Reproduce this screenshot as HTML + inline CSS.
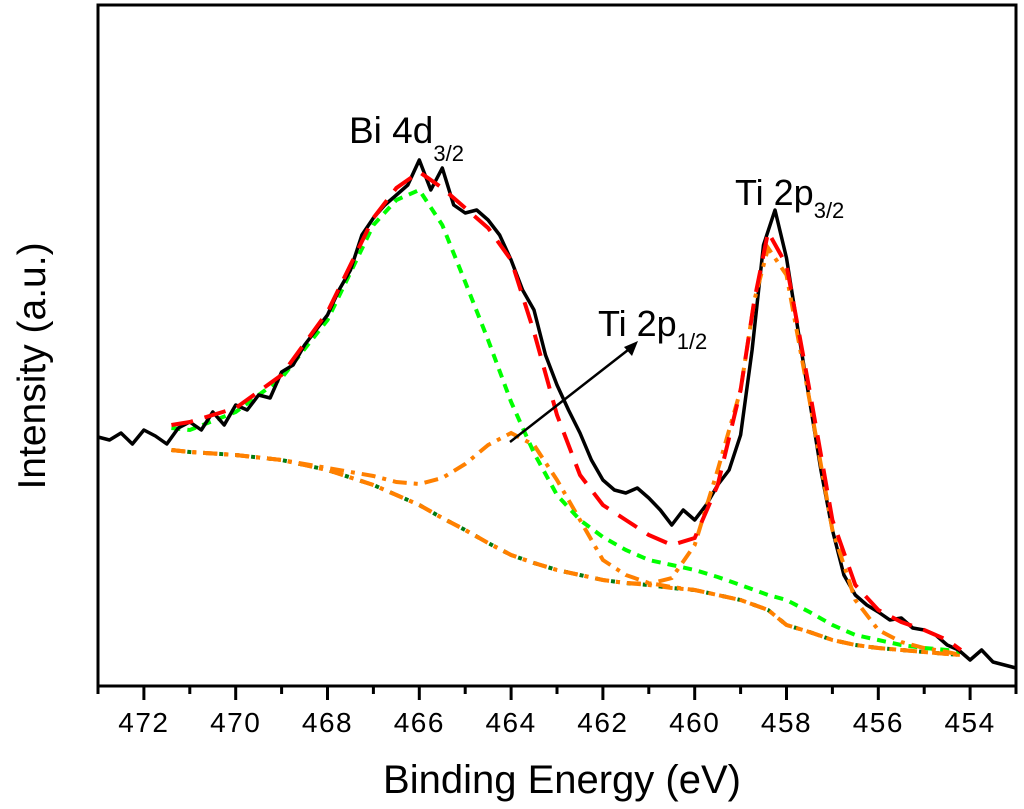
<!DOCTYPE html>
<html><head><meta charset="utf-8"><style>
html,body{margin:0;padding:0;background:#fff;}
svg{display:block;font-family:"Liberation Sans",Arial,sans-serif;}
</style></head><body>
<svg id="chart" width="1024" height="809" viewBox="0 0 1024 809">
<g id="plot"></g>
<g id="axes"></g>
<text x="349" y="143" font-size="37">Bi 4d<tspan font-size="22" dy="18">3/2</tspan></text>
<text x="735" y="205" font-size="36">Ti 2p<tspan font-size="22" dy="13">3/2</tspan></text>
<text x="598" y="336" font-size="36">Ti 2p<tspan font-size="22" dy="13">1/2</tspan></text>
<line x1="510" y1="442" x2="628" y2="350" stroke="#000" stroke-width="2.5"/>
<polygon points="638,341 624,347 632,356" fill="#000"/>
<text x="0" y="0" font-size="39" text-anchor="middle" transform="translate(45,366) rotate(-90)">Intensity (a.u.)</text>
<text x="562" y="793" font-size="40" text-anchor="middle">Binding Energy (eV)</text>
</svg>
<script>
const rawE0 = 473, rawStep = -0.25;
const rawValues = [263,260,267,256,270,264,256,272,
278,270,288,275,295,290,305,302,328,335,355,370,385,410,430,465,482,495,505,515,540,510,532,495,487,490,480,465,440,410,390,345,315,290,267,240,220,210,207,
212,202,190,175,190,180,195,215,230,265,350,455,490,442,370,300,230,170,125,105,95,88,80,82,72,70,65,55,50,40,50,38,35,32];
const fitE = [471.4,471,470,469,468,467,466.5,466,465.5,465,464.5,464,463.5,463,462.5,462,461.5,461,460.5,460,459.5,459,458.7,458.4,458,457.5,457,456.5,456,455.5,455,454.5,454.2];
const envelope = [275,278,292,325,388,482,512,528,512,492,472,440,368,285,225,195,180,165,155,162,215,310,400,468,435,310,180,115,90,78,70,60,50];
const background = [250,248,245,240,230,215,205,195,182,170,157,145,137,130,125,120,117,115,112,110,105,100,95,90,75,68,60,55,52,50,48,46,45];
const bi4d = [272,270,288,322,380,475,500,510,475,418,360,298,247,205,180,163,150,140,135,130,123,115,110,105,100,88,75,65,60,55,52,50,48];
const ti2p12 = [250,248,245,240,232,224,218,216,222,236,255,267,255,220,180,140,125,117,113,110,105,100,95,90,75,68,60,55,52,50,48,46,45];
const ti2p32 = [250,248,245,240,230,215,205,195,182,170,157,145,137,130,125,120,117,116,122,155,230,310,400,452,425,300,170,100,70,58,52,48,45];
const xTicks = [472,470,468,466,464,462,460,458,456,454];
const xMinor = [473,471,469,467,465,463,461,459,457,455,453];

const L=98,R=1016,T=5,B=686, E_MAX=473,E_MIN=453, V_MIN=14, V_MAX=695;
function xs(e){return L+(E_MAX-e)/(E_MAX-E_MIN)*(R-L);}
function ys(v){return B-(v-V_MIN)/(V_MAX-V_MIN)*(B-T);}
const NS="http://www.w3.org/2000/svg";
const plot=document.getElementById('plot'), axes=document.getElementById('axes');
function mk(tag,attrs,parent){const el=document.createElementNS(NS,tag);for(const k in attrs)el.setAttribute(k,attrs[k]);parent.appendChild(el);return el;}
function pathFrom(es,vs){return es.map((e,i)=>(i?'L':'M')+xs(e).toFixed(1)+','+ys(vs[i]).toFixed(1)).join(' ');}

let p;
p=mk('path',{d:pathFrom(fitE,background),fill:'none',stroke:'#ff8000','stroke-width':4,'stroke-dasharray':'14 7 4 7'},plot);


p=mk('path',{d:pathFrom(fitE,background),fill:'none',stroke:'#007a10','stroke-width':4,'stroke-dasharray':'4 12'},plot);


p=mk('path',{d:pathFrom(fitE,ti2p12),fill:'none',stroke:'#ff8000','stroke-width':4,'stroke-dasharray':'14 7 4 7'},plot);


p=mk('path',{d:pathFrom(fitE,bi4d),fill:'none',stroke:'#00ff00','stroke-width':4,'stroke-dasharray':'9 7'},plot);


const rawE=rawValues.map((v,i)=>rawE0+i*rawStep);
p=mk('path',{d:pathFrom(rawE,rawValues),fill:'none',stroke:'#000','stroke-width':3.5,'stroke-linejoin':'round'},plot);


p=mk('path',{d:pathFrom(fitE,ti2p32),fill:'none',stroke:'#ff8000','stroke-width':4,'stroke-dasharray':'14 7 4 7'},plot);


p=mk('path',{d:pathFrom(fitE,envelope),fill:'none',stroke:'#ff0000','stroke-width':4,'stroke-dasharray':'22 12'},plot);



let f=mk('rect',{x:L,y:T,width:R-L,height:B-T,fill:'none',stroke:'#000','stroke-width':3},axes);


xTicks.forEach(e=>{
  let t=mk('line',{x1:xs(e),x2:xs(e),y1:B,y2:B+14,stroke:'#000','stroke-width':3},axes);
  
  
  let l=mk('text',{x:xs(e),y:732,'font-size':28,'letter-spacing':1.5,'text-anchor':'middle'},axes);
  l.textContent=String(e);
  
  
});
xMinor.forEach(e=>{
  let t=mk('line',{x1:xs(e),x2:xs(e),y1:B,y2:B+8,stroke:'#000','stroke-width':3},axes);
  
  
});
</script>
</body></html>
